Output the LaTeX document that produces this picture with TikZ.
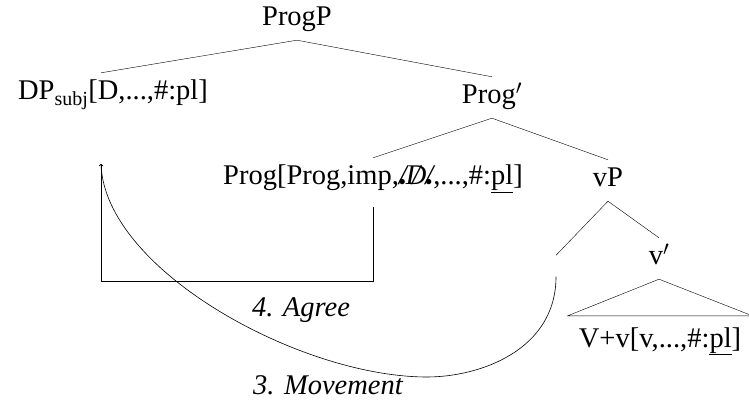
\documentclass[tikz,border=0pt]{standalone}
\usepackage{fontspec}
\setmainfont{Liberation Serif}
\usepackage{graphicx}

% struck-out D feature
\newcommand{\notemark}{\rlap{\raisebox{-0.5pt}{\scalebox{0.55}{$\bullet$}}}/}
\newcommand{\struckD}{{\itshape\notemark\kern-1pt\ooalign{D\cr\hidewidth/\hidewidth}\kern-1pt\notemark}}

\begin{document}
\begin{tikzpicture}[
    x=1pt, y=-1pt,
    font=\fontsize{28.5}{33}\selectfont,
    lbl/.style={anchor=base, inner xsep=0pt, inner ysep=8pt, text height=19pt, text depth=6pt},
    stepnote/.style={anchor=base, inner sep=0pt, font=\fontsize{28.5}{33}\selectfont\itshape},
    rel/.style={line width=0.6pt, ->}
]
\useasboundingbox (0,0) rectangle (749,403);

% --- Tree nodes ---
\node[lbl] (progp) at (297,26) {ProgP};
\node[lbl] (dp) at (113,100) {DP\textsubscript{subj}[D,...,\#:pl]};
\node[lbl] (progbar) at (492,104) {Prog$^\prime$};
\node[lbl] (prog) at (373,185) {Prog[Prog,imp,\struckD,...,\#:\underline{pl}]};
\node[lbl] (vp) at (608,187) {vP};
\node[inner sep=0pt, minimum height=21pt] (trace) at (556,266) {};
\node[lbl] (vbar) at (659,265) {v$^\prime$};
\node[lbl, inner xsep=11pt, inner ysep=12pt] (vv) at (660,347) {V+v[v,...,\#:\underline{pl}]};

% --- Branches ---
\draw (progp.south) -- ([xshift=-12pt]dp.north);
\draw (progp.south) -- (progbar.north);
\draw (progbar.south) -- (prog.north);
\draw (progbar.south) -- (vp.north);
\draw (vp.south) -- (trace.north);
\draw (vp.south) -- (vbar.north);
\draw (vbar.south) -- (vv.north west) -- (vv.north east) -- cycle;

% --- Agree and Movement ---
\coordinate (goal) at (101,164);
\draw[rel] ([yshift=-8pt]prog.south) -- ++(0,74) -| (goal);
\draw[rel] (trace.south) .. controls (556,350) and (480,377) .. (427,377)
    .. controls (300,377) and (105,270) .. (goal);

% Labels
\node[stepnote] (agree) at (301,316) {4. Agree};
\node[stepnote] (move) at (328,394) {3. Movement};

\end{tikzpicture}
\end{document}
